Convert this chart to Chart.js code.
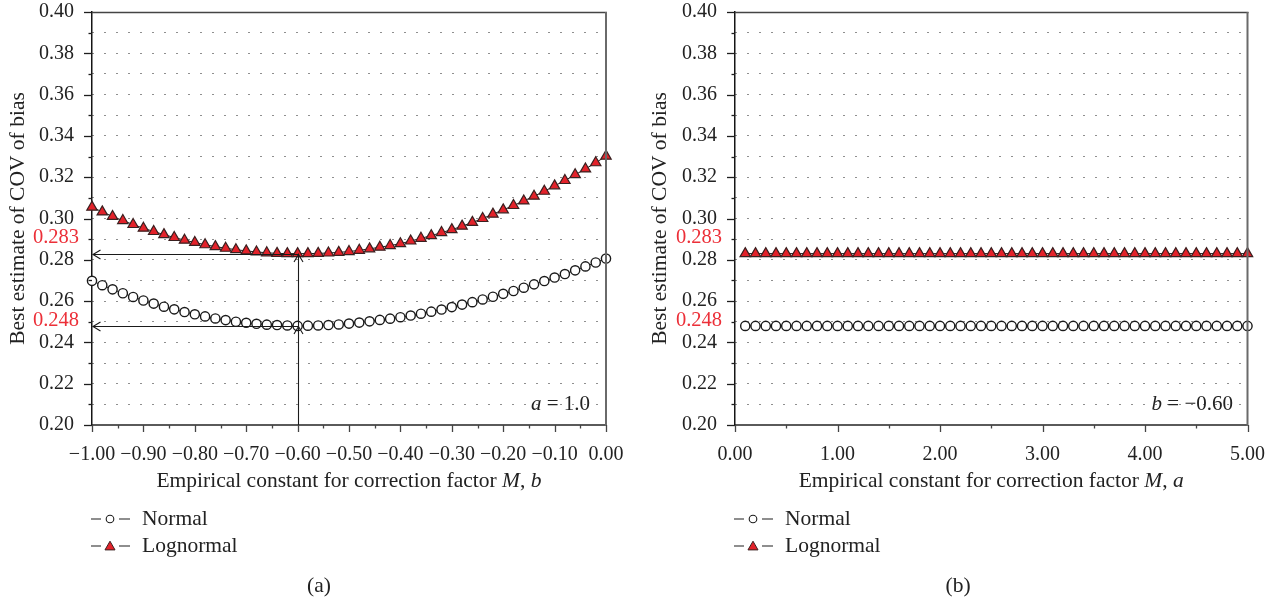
<!DOCTYPE html>
<html>
<head>
<meta charset="utf-8">
<script src="https://cdn.jsdelivr.net/npm/chart.js@4/dist/chart.umd.min.js"></script>
<style>
  html, body { margin: 0; padding: 0; background: #ffffff; }
  #wrap { position: relative; width: 1274px; height: 606px; overflow: hidden; }
  .pane { position: absolute; top: 0; width: 637px; height: 606px; }
  canvas { display: block; }
</style>
</head>
<body>
<div id="wrap">
  <div class="pane" style="left:0"><canvas id="chartA" width="637" height="606"></canvas></div>
  <div class="pane" style="left:637px"><canvas id="chartB" width="637" height="606"></canvas></div>
</div>
<script>
// ---- (a) COV of bias against b, with a = 1.0 ----
const bValues = [
  -1.00, -0.98, -0.96, -0.94, -0.92, -0.90, -0.88, -0.86, -0.84, -0.82,
  -0.80, -0.78, -0.76, -0.74, -0.72, -0.70, -0.68, -0.66, -0.64, -0.62,
  -0.60, -0.58, -0.56, -0.54, -0.52, -0.50, -0.48, -0.46, -0.44, -0.42,
  -0.40, -0.38, -0.36, -0.34, -0.32, -0.30, -0.28, -0.26, -0.24, -0.22,
  -0.20, -0.18, -0.16, -0.14, -0.12, -0.10, -0.08, -0.06, -0.04, -0.02,
   0.00
];
const normalA = [
  0.2698, 0.2677, 0.2657, 0.2638, 0.2620, 0.2603, 0.2588, 0.2573, 0.2560, 0.2547,
  0.2536, 0.2526, 0.2516, 0.2508, 0.2500, 0.2495, 0.2490, 0.2486, 0.2484, 0.2482,
  0.2480, 0.2481, 0.2482, 0.2484, 0.2487, 0.2491, 0.2496, 0.2502, 0.2509, 0.2515,
  0.2522, 0.2530, 0.2539, 0.2549, 0.2559, 0.2571, 0.2583, 0.2595, 0.2608, 0.2621,
  0.2635, 0.2649, 0.2665, 0.2681, 0.2697, 0.2714, 0.2731, 0.2749, 0.2768, 0.2787,
  0.2806
];
const lognormalA = [
  0.3055, 0.3032, 0.3010, 0.2990, 0.2971, 0.2953, 0.2937, 0.2922, 0.2908, 0.2895,
  0.2884, 0.2873, 0.2864, 0.2856, 0.2849, 0.2843, 0.2838, 0.2834, 0.2831, 0.2830,
  0.2830, 0.2830, 0.2831, 0.2833, 0.2836, 0.2840, 0.2846, 0.2853, 0.2861, 0.2869,
  0.2878, 0.2891, 0.2904, 0.2917, 0.2932, 0.2946, 0.2963, 0.2981, 0.3000, 0.3021,
  0.3042, 0.3063, 0.3085, 0.3108, 0.3132, 0.3158, 0.3184, 0.3212, 0.3240, 0.3270,
  0.3302
];
const bOptimum = -0.60;

// ---- (b) COV of bias against a, with b = -0.60 ----
const aValues = [
  0.1, 0.2, 0.3, 0.4, 0.5, 0.6, 0.7, 0.8, 0.9, 1.0,
  1.1, 1.2, 1.3, 1.4, 1.5, 1.6, 1.7, 1.8, 1.9, 2.0,
  2.1, 2.2, 2.3, 2.4, 2.5, 2.6, 2.7, 2.8, 2.9, 3.0,
  3.1, 3.2, 3.3, 3.4, 3.5, 3.6, 3.7, 3.8, 3.9, 4.0,
  4.1, 4.2, 4.3, 4.4, 4.5, 4.6, 4.7, 4.8, 4.9, 5.0
];
const normalB = [
  0.248, 0.248, 0.248, 0.248, 0.248, 0.248, 0.248, 0.248, 0.248, 0.248,
  0.248, 0.248, 0.248, 0.248, 0.248, 0.248, 0.248, 0.248, 0.248, 0.248,
  0.248, 0.248, 0.248, 0.248, 0.248, 0.248, 0.248, 0.248, 0.248, 0.248,
  0.248, 0.248, 0.248, 0.248, 0.248, 0.248, 0.248, 0.248, 0.248, 0.248,
  0.248, 0.248, 0.248, 0.248, 0.248, 0.248, 0.248, 0.248, 0.248, 0.248
];
const lognormalB = [
  0.283, 0.283, 0.283, 0.283, 0.283, 0.283, 0.283, 0.283, 0.283, 0.283,
  0.283, 0.283, 0.283, 0.283, 0.283, 0.283, 0.283, 0.283, 0.283, 0.283,
  0.283, 0.283, 0.283, 0.283, 0.283, 0.283, 0.283, 0.283, 0.283, 0.283,
  0.283, 0.283, 0.283, 0.283, 0.283, 0.283, 0.283, 0.283, 0.283, 0.283,
  0.283, 0.283, 0.283, 0.283, 0.283, 0.283, 0.283, 0.283, 0.283, 0.283
];

// ---- tick labels ----
const yTickLabels = ['0.20', '0.22', '0.24', '0.26', '0.28', '0.30', '0.32', '0.34', '0.36', '0.38', '0.40'];
const xTickLabelsA = ['\u22121.00', '\u22120.90', '\u22120.80', '\u22120.70', '\u22120.60', '\u22120.50',
                      '\u22120.40', '\u22120.30', '\u22120.20', '\u22120.10', '0.00'];
const xTickLabelsB = ['0.00', '1.00', '2.00', '3.00', '4.00', '5.00'];

const SERIF = "'Liberation Serif', 'DejaVu Serif', serif";
const TEXT = '#222222';
const RED_TEXT = '#ec2f38';
const TRI_FILL = '#e3222a';
const TRI_EDGE = '#3a2020';
const TITLE_SIZE = 21.5;

const num = s => parseFloat(s.replace('\u2212', '-'));

// major ticks carry labels, a minor tick sits halfway between each pair
function tickSet(labels) {
  const major = labels.map(num);
  const out = [];
  major.forEach((v, i) => {
    out.push({ value: v, major: true });
    if (i < major.length - 1) out.push({ value: (v + major[i + 1]) / 2, major: false });
  });
  return out;
}
function labelFor(labels, value) {
  const hit = labels.find(l => Math.abs(num(l) - value) < 1e-6);
  return hit === undefined ? '' : hit;
}

function setFont(ctx, size, italic) {
  ctx.font = (italic ? 'italic ' : '') + size + 'px ' + SERIF;
}
// text made of upright and italic runs
function drawRich(ctx, parts, x, y, align, size, color) {
  ctx.save();
  ctx.fillStyle = color;
  ctx.textBaseline = 'middle';
  ctx.textAlign = 'left';
  let total = 0;
  parts.forEach(p => { setFont(ctx, size, p.i); total += ctx.measureText(p.t).width; });
  let cx = align === 'center' ? x - total / 2 : align === 'right' ? x - total : x;
  parts.forEach(p => { setFont(ctx, size, p.i); ctx.fillText(p.t, cx, y); cx += ctx.measureText(p.t).width; });
  ctx.restore();
}

function marker(ctx, style, x, y, r, fill, stroke, lw) {
  ctx.save();
  ctx.fillStyle = fill;
  ctx.strokeStyle = stroke;
  ctx.lineWidth = lw;
  ctx.beginPath();
  if (style === 'triangle') {
    ctx.moveTo(x, y - r);
    ctx.lineTo(x + r * Math.sin(2 * Math.PI / 3), y - r * Math.cos(2 * Math.PI / 3));
    ctx.lineTo(x + r * Math.sin(4 * Math.PI / 3), y - r * Math.cos(4 * Math.PI / 3));
    ctx.closePath();
  } else {
    ctx.arc(x, y, r, 0, Math.PI * 2);
  }
  ctx.fill();
  ctx.stroke();
  ctx.restore();
}

// frame, tick marks, axis titles, legend, caption and notes
const decorPlugin = {
  id: 'decor',
  afterDraw(chart) {
    const o = chart.options.plugins.decor;
    const ctx = chart.ctx;
    const area = chart.chartArea;
    const xs = chart.scales.x, ys = chart.scales.y;

    ctx.save();
    // top and right edges of the frame
    ctx.strokeStyle = '#444444';
    ctx.lineWidth = 1.5;
    ctx.beginPath(); ctx.moveTo(area.left, area.top + 0.5); ctx.lineTo(area.right + 1, area.top + 0.5); ctx.stroke();
    ctx.strokeStyle = '#6a6a6a';
    ctx.lineWidth = 2;
    ctx.beginPath(); ctx.moveTo(area.right, area.top); ctx.lineTo(area.right, area.bottom + 1); ctx.stroke();

    // y tick marks (outside, left)
    ctx.strokeStyle = '#1e1e1e';
    ctx.lineWidth = 1.3;
    ys.ticks.forEach(t => {
      const y = Math.round(ys.getPixelForValue(t.value)) + 0.5;
      const len = t.major ? 8 : 3.5;
      ctx.beginPath(); ctx.moveTo(area.left - len, y); ctx.lineTo(area.left, y); ctx.stroke();
    });
    // x tick marks (outside, below)
    ctx.strokeStyle = '#444444';
    xs.ticks.forEach(t => {
      const x = Math.round(xs.getPixelForValue(t.value)) + 0.5;
      const len = t.major ? 7 : 3.5;
      ctx.beginPath(); ctx.moveTo(x, area.bottom); ctx.lineTo(x, area.bottom + len); ctx.stroke();
    });
    ctx.restore();

    const midX = (area.left + area.right) / 2;
    // x title
    drawRich(ctx, o.xTitle, midX, 481, 'center', TITLE_SIZE, TEXT);
    // y title
    ctx.save();
    ctx.translate(o.yTitleX, (area.top + area.bottom) / 2);
    ctx.rotate(-Math.PI / 2);
    drawRich(ctx, [{ t: 'Best estimate of COV of bias' }], 0, 0, 'center', TITLE_SIZE, TEXT);
    ctx.restore();

    // note in the lower right corner of the plot
    drawRich(ctx, o.note, area.right - o.noteInset, 404.5, 'right', 21, TEXT);

    // red value labels at the axis
    ctx.save();
    setFont(ctx, 20.5, false);
    ctx.fillStyle = RED_TEXT;
    ctx.textAlign = 'right';
    ctx.textBaseline = 'middle';
    o.valueLabels.forEach(v => {
      ctx.fillText(v.value.toFixed(3), area.left - 13, ys.getPixelForValue(v.value) + v.dy);
    });
    ctx.restore();

    // legend built from the datasets
    const lx = area.left - 1;
    chart.data.datasets.forEach((ds, i) => {
      const y = 519 + i * 27;
      ctx.save();
      ctx.strokeStyle = '#1e1e1e';
      ctx.lineWidth = 1.2;
      ctx.beginPath();
      ctx.moveTo(lx, y); ctx.lineTo(lx + 10, y);
      ctx.moveTo(lx + 28, y); ctx.lineTo(lx + 39, y);
      ctx.stroke();
      ctx.restore();
      if (ds.pointStyle === 'triangle') marker(ctx, 'triangle', lx + 19, y + 1, 5.8, ds.pointBackgroundColor, ds.pointBorderColor, 1);
      else marker(ctx, 'circle', lx + 19, y, 3.8, ds.pointBackgroundColor, ds.pointBorderColor, 1.1);
      drawRich(ctx, [{ t: ds.label }], lx + 51, y, 'left', TITLE_SIZE, TEXT);
    });

    // caption
    drawRich(ctx, [{ t: o.caption }], o.captionX, 586, 'center', TITLE_SIZE, TEXT);
  }
};

// guide arrows from the optimum b to the axis
const arrowPlugin = {
  id: 'guides',
  afterDatasetsDraw(chart) {
    const o = chart.options.plugins.guides;
    if (!o || !o.levels) return;
    const ctx = chart.ctx;
    const area = chart.chartArea;
    const xs = chart.scales.x, ys = chart.scales.y;
    const x0 = Math.round(xs.getPixelForValue(o.at)) + 0.5;
    const tipX = area.left + 1;
    ctx.save();
    ctx.strokeStyle = '#1a1a1a';
    ctx.lineWidth = 1.1;
    const top = Math.min(...o.levels.map(v => ys.getPixelForValue(v)));
    ctx.beginPath(); ctx.moveTo(x0, area.bottom); ctx.lineTo(x0, top); ctx.stroke();
    o.levels.forEach(v => {
      const y = Math.round(ys.getPixelForValue(v)) + 0.5;
      ctx.beginPath(); ctx.moveTo(x0, y); ctx.lineTo(tipX, y); ctx.stroke();
      // head pointing to the y axis
      ctx.beginPath(); ctx.moveTo(tipX + 7.5, y - 4.5); ctx.lineTo(tipX, y); ctx.lineTo(tipX + 7.5, y + 4.5); ctx.stroke();
      // head pointing up the vertical guide
      ctx.beginPath(); ctx.moveTo(x0 - 4.5, y + 7.5); ctx.lineTo(x0, y); ctx.lineTo(x0 + 4.5, y + 7.5); ctx.stroke();
    });
    ctx.restore();
  }
};

function buildChart(id, cfg) {
  const yTicks = tickSet(yTickLabels);
  const xTicks = tickSet(cfg.xLabels);
  const toPoints = (xv, yv) => xv.map((x, i) => ({ x: x, y: yv[i] }));
  return new Chart(document.getElementById(id), {
    type: 'scatter',
    data: {
      datasets: [
        {
          label: 'Normal',
          data: toPoints(cfg.x, cfg.normal),
          showLine: true,
          borderColor: '#1e1e1e',
          borderWidth: 1,
          pointStyle: 'circle',
          pointRadius: 4.6,
          pointBackgroundColor: '#ffffff',
          pointBorderColor: '#1a1a1a',
          pointBorderWidth: 1.4
        },
        {
          label: 'Lognormal',
          data: toPoints(cfg.x, cfg.lognormal),
          showLine: true,
          borderColor: '#1e1e1e',
          borderWidth: 1,
          pointStyle: 'triangle',
          pointRadius: 6,
          pointBackgroundColor: TRI_FILL,
          pointBorderColor: TRI_EDGE,
          pointBorderWidth: 1.2
        }
      ]
    },
    options: {
      responsive: false,
      animation: false,
      events: [],
      clip: false,
      layout: { padding: { left: 0, top: 12, right: cfg.padRight, bottom: 0 } },
      plugins: {
        legend: { display: false },
        tooltip: { enabled: false },
        decor: cfg.decor,
        guides: cfg.guides || {}
      },
      scales: {
        x: {
          type: 'linear',
          min: num(cfg.xLabels[0]),
          max: num(cfg.xLabels[cfg.xLabels.length - 1]),
          afterBuildTicks: s => { s.ticks = xTicks.map(t => ({ value: t.value, major: t.major })); },
          afterFit: s => { s.height = 181; s.paddingLeft = 0; s.paddingRight = 0; s.paddingTop = 0; s.paddingBottom = 0; },
          grid: { display: false, drawTicks: false },
          border: { display: true, color: '#5a5a5a', width: 2 },
          ticks: {
            autoSkip: false,
            maxRotation: 0,
            padding: 18,
            color: TEXT,
            font: { family: SERIF, size: 20 },
            callback: v => labelFor(cfg.xLabels, v)
          }
        },
        y: {
          type: 'linear',
          min: 0.20,
          max: 0.40,
          afterBuildTicks: s => { s.ticks = yTicks.map(t => ({ value: t.value, major: t.major })); },
          afterFit: s => { s.width = cfg.axisLeft; s.paddingTop = 0; s.paddingBottom = 0; s.paddingLeft = 0; s.paddingRight = 0; },
          grid: {
            drawTicks: false,
            lineWidth: 1,
            color: c => (c.tick && (Math.abs(c.tick.value - 0.2) < 1e-6 || Math.abs(c.tick.value - 0.4) < 1e-6)) ? 'rgba(0,0,0,0)' : '#1f1f1f'
          },
          border: { display: true, color: '#151515', width: 1.5, dash: [1, 11] },
          ticks: {
            autoSkip: false,
            padding: 18,
            color: TEXT,
            font: { family: SERIF, size: 20 },
            callback: v => labelFor(yTickLabels, v)
          }
        }
      }
    },
    plugins: [arrowPlugin, decorPlugin]
  });
}

const iOpt = bValues.indexOf(bOptimum);

const chartA = buildChart('chartA', {
  x: bValues,
  normal: normalA,
  lognormal: lognormalA,
  xLabels: xTickLabelsA,
  axisLeft: 92,
  padRight: 31,
  guides: { at: bOptimum, levels: [lognormalA[iOpt], normalA[iOpt]] },
  decor: {
    xTitle: [{ t: 'Empirical constant for correction factor ' }, { t: 'M', i: true }, { t: ', ' }, { t: 'b', i: true }],
    yTitleX: 18,
    note: [{ t: 'a', i: true }, { t: ' = 1.0' }],
    noteInset: 16,
    valueLabels: [{ value: lognormalA[iOpt], dy: -15.5 }, { value: normalA[iOpt], dy: -5 }],
    caption: '(a)',
    captionX: 319
  }
});

const chartB = buildChart('chartB', {
  x: aValues,
  normal: normalB,
  lognormal: lognormalB,
  xLabels: xTickLabelsB,
  axisLeft: 98,
  padRight: 26.5,
  decor: {
    xTitle: [{ t: 'Empirical constant for correction factor ' }, { t: 'M', i: true }, { t: ', ' }, { t: 'a', i: true }],
    yTitleX: 23,
    note: [{ t: 'b', i: true }, { t: ' = \u22120.60' }],
    noteInset: 14.5,
    valueLabels: [{ value: lognormalB[0], dy: -15.5 }, { value: normalB[0], dy: -5 }],
    caption: '(b)',
    captionX: 321
  }
});
</script>
</body>
</html>
